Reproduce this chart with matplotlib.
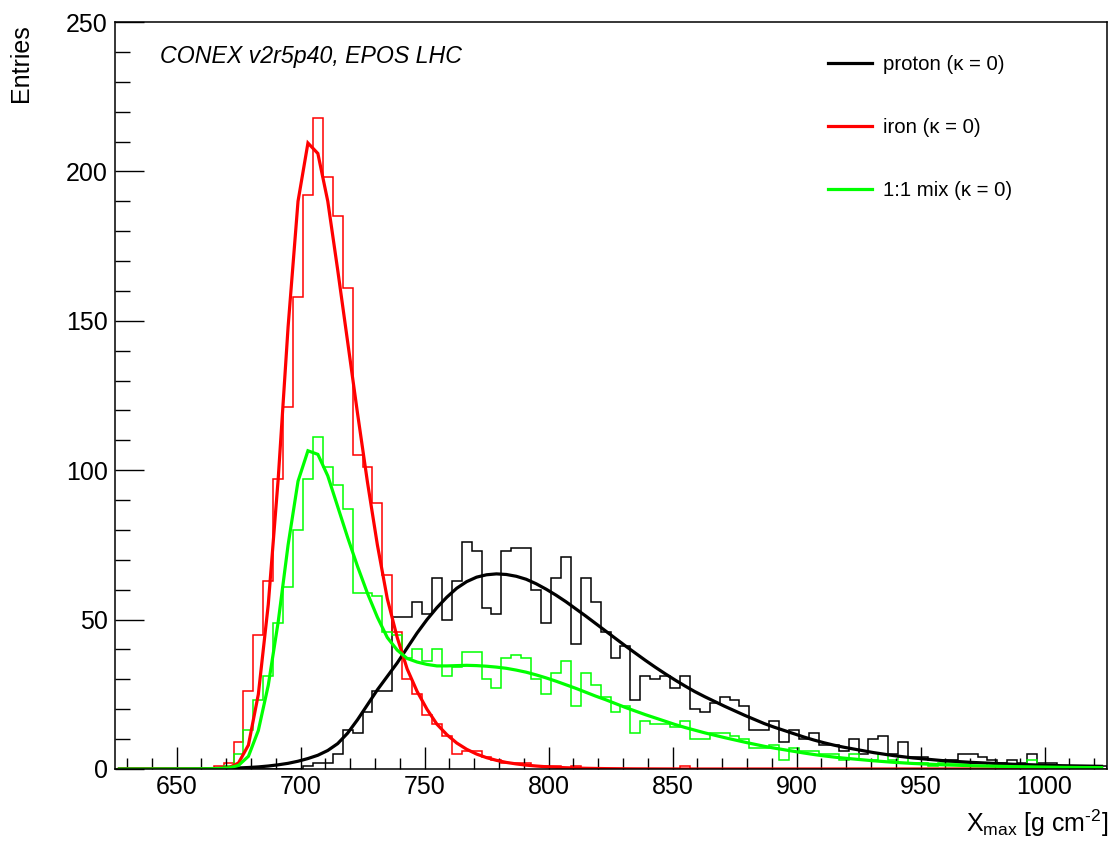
import numpy as np
import matplotlib
matplotlib.use("Agg")
import matplotlib.pyplot as plt
from matplotlib.lines import Line2D
from matplotlib.ticker import MultipleLocator

plt.rcParams['font.family'] = ['Liberation Sans', 'DejaVu Sans']
plt.rcParams['mathtext.fontset'] = 'custom'
plt.rcParams['mathtext.rm'] = 'Liberation Sans'
plt.rcParams['mathtext.it'] = 'Liberation Sans:italic'

# ---------------- data ----------------
x_min, x_max, n_bins = 625, 1025, 100
bin_edges = np.linspace(x_min, x_max, n_bins + 1)
bin_centres = 0.5 * (bin_edges[:-1] + bin_edges[1:])

proton_hist = [0]*19 + [
    1, 2, 2, 5, 13, 12, 19, 26, 26, 51,
    51, 56, 52, 64, 50, 63, 76, 73, 54, 52,
    73, 74, 74, 60, 49, 64, 71, 42, 64, 56,
    46, 37, 41, 23, 31, 30, 31, 27, 31, 20,
    19, 22, 24, 23, 21, 13, 13, 16, 9, 13,
    10, 12, 8, 8, 6, 10, 5, 10, 11, 5,
    9, 4, 4, 3, 3, 3, 5, 5, 4, 3,
    2, 3, 2, 5, 2, 2, 1, 1, 1, 1, 1]

iron_hist = [0]*10 + [
    1, 2, 9, 26, 45, 63, 97, 121, 158, 192,
    218, 198, 185, 161, 105, 101, 89, 65, 46, 30,
    25, 18, 15, 11, 5, 6, 6, 4, 3, 2,
    2, 2, 1, 1, 1, 0, 1, 0, 0, 0,
    0, 0, 0, 0, 0, 0, 0, 1] + [0]*42

mix_hist = [0]*11 + [
    1, 5, 13, 23, 31, 49, 61, 80, 97, 111,
    101, 95, 87, 59, 59, 58, 46, 45, 37, 40,
    36, 40, 31, 34, 39, 39, 30, 27, 37, 38,
    37, 30, 25, 32, 36, 21, 32, 28, 24, 19,
    21, 12, 16, 15, 15, 14, 16, 10, 10, 12,
    12, 11, 10, 7, 7, 8, 3, 7, 6, 6,
    5, 5, 3, 5, 3, 3, 5, 3, 4, 2,
    2, 1, 2, 2, 2, 2, 2, 1, 1, 1,
    1, 3, 1, 1, 0, 0, 0, 0, 0]

# fitted curves, read at bin centres
proton_fit = [
    0, 0, 0, 0.01, 0.02, 0.03, 0.05, 0.07, 0.1, 0.13,
    0.18, 0.25, 0.35, 0.5, 0.7, 1.0, 1.4, 1.9, 2.6, 3.5,
    4.6, 6.2, 8.5, 12, 16.5, 21.5, 26.5, 31, 35.5, 40.5,
    45.5, 50, 54, 57.5, 60.5, 62.7, 64.2, 65, 65.3, 65.1,
    64.5, 63.5, 62, 60.2, 58.2, 56, 53.6, 51.2, 48.7, 46.2,
    43.7, 41.2, 38.8, 36.4, 34.1, 31.9, 29.8, 27.8, 25.9, 24.2,
    22.6, 21, 19.5, 18, 16.6, 15.2, 14, 12.9, 11.8, 10.7,
    9.7, 8.8, 8.0, 7.3, 6.7, 6.1, 5.5, 5.0, 4.5, 4.1,
    3.7, 3.4, 3.1, 2.8, 2.6, 2.4, 2.2, 2.05, 1.9, 1.75,
    1.6, 1.5, 1.4, 1.3, 1.2, 1.1, 1.05, 1.0, 0.95, 0.9]

iron_fit = [
    0, 0, 0, 0, 0, 0, 0, 0, 0, 0,
    0.1, 0.4, 2, 8, 25, 55, 97, 148, 190, 209.5,
    206, 190, 167, 143, 119, 96, 75, 57, 44, 33.5,
    26, 20, 15, 11.5, 8.7, 6.6, 5.0, 3.8, 2.9, 2.2,
    1.7, 1.3, 1.0, 0.75, 0.56, 0.42, 0.32, 0.24, 0.18, 0.13,
    0.1, 0.07, 0.05, 0.04, 0.03, 0.02, 0.01, 0, 0, 0,
    0, 0, 0, 0, 0, 0, 0, 0, 0, 0,
    0, 0, 0, 0, 0, 0, 0, 0, 0, 0,
    0, 0, 0, 0, 0, 0, 0, 0, 0, 0,
    0, 0, 0, 0, 0, 0, 0, 0, 0, 0]

mix_fit = [
    0, 0, 0, 0, 0.01, 0.02, 0.03, 0.04, 0.05, 0.07,
    0.14, 0.33, 1.2, 4.25, 12.9, 28, 49.2, 75, 96.3, 106.5,
    105.3, 98.1, 87.8, 77.5, 67.8, 58.8, 50.8, 44, 39.8, 37,
    35.8, 35, 34.5, 34.5, 34.6, 34.7, 34.6, 34.4, 34.1, 33.7,
    33.1, 32.4, 31.5, 30.5, 29.4, 28.2, 27, 25.7, 24.4, 23.2,
    21.9, 20.6, 19.4, 18.2, 17.1, 16, 14.9, 13.9, 13, 12.1,
    11.3, 10.5, 9.75, 9, 8.3, 7.6, 7, 6.45, 5.9, 5.35,
    4.85, 4.4, 4, 3.65, 3.35, 3.05, 2.75, 2.5, 2.25, 2.05,
    1.85, 1.7, 1.55, 1.4, 1.3, 1.2, 1.1, 1.03, 0.95, 0.88,
    0.8, 0.75, 0.7, 0.65, 0.6, 0.55, 0.53, 0.5, 0.48, 0.45]

series_labels = ["proton (\u03ba = 0)", "iron (\u03ba = 0)", "1:1 mix (\u03ba = 0)"]
series_colors = ["#000000", "#ff0000", "#00ff00"]
annotation = "CONEX v2r5p40, EPOS LHC"

# ---------------- figure ----------------
W, H = 1111, 841
fig = plt.figure(figsize=(W / 100, H / 100), dpi=100)
ax = fig.add_axes([114.5 / W, 1 - 769 / H, (1106.5 - 114.5) / W, (769 - 22) / H])

hists = [proton_hist, iron_hist, mix_hist]
fits = [proton_fit, iron_fit, mix_fit]

for h, c in zip(hists, series_colors):
    ax.stairs(h, bin_edges, color=c, lw=1.1, baseline=0)
for f, c in zip(fits, series_colors):
    ax.plot(bin_centres, f, color=c, lw=2.3, solid_joinstyle='miter')

ax.set_xlim(x_min, x_max)
ax.set_ylim(0, 250)

ax.xaxis.set_major_locator(MultipleLocator(50))
ax.xaxis.set_minor_locator(MultipleLocator(10))
ax.yaxis.set_major_locator(MultipleLocator(50))
ax.yaxis.set_minor_locator(MultipleLocator(10))

ax.tick_params(axis='x', which='major', direction='in', length=15.8, width=1.0,
               labelsize=18, pad=4)
ax.tick_params(axis='x', which='minor', direction='in', length=7.9, width=1.0)
ax.tick_params(axis='y', which='major', direction='in', length=21, width=1.0,
               labelsize=18, pad=5)
ax.tick_params(axis='y', which='minor', direction='in', length=10.5, width=1.0)
for s in ax.spines.values():
    s.set_linewidth(1.1)

ax.set_xlabel(r"X$_{\mathrm{max}}$ [g cm$^{\text{-2}}$]", fontsize=18, loc='right')
ax.xaxis.set_label_coords(1.002, -0.052)
ax.set_ylabel("Entries", fontsize=18, loc='top')
ax.yaxis.set_label_coords(-0.082, 0.997)

ax.text((160 - 114.5) / 991.5, (769 - 57) / 747, annotation, transform=ax.transAxes,
        fontsize=16.7, style='italic', ha='left', va='center')

handles = [Line2D([], [], color=c, lw=2.3) for c in series_colors]
leg = ax.legend(handles, series_labels, loc='upper left',
                bbox_to_anchor=(828 / W, 1 - 55.5 / H), bbox_transform=fig.transFigure,
                frameon=False, fontsize=14.7, handlelength=2.15, handletextpad=0.54,
                labelspacing=2.155, borderpad=0, borderaxespad=0)

fig.savefig("out.png", dpi=100)
